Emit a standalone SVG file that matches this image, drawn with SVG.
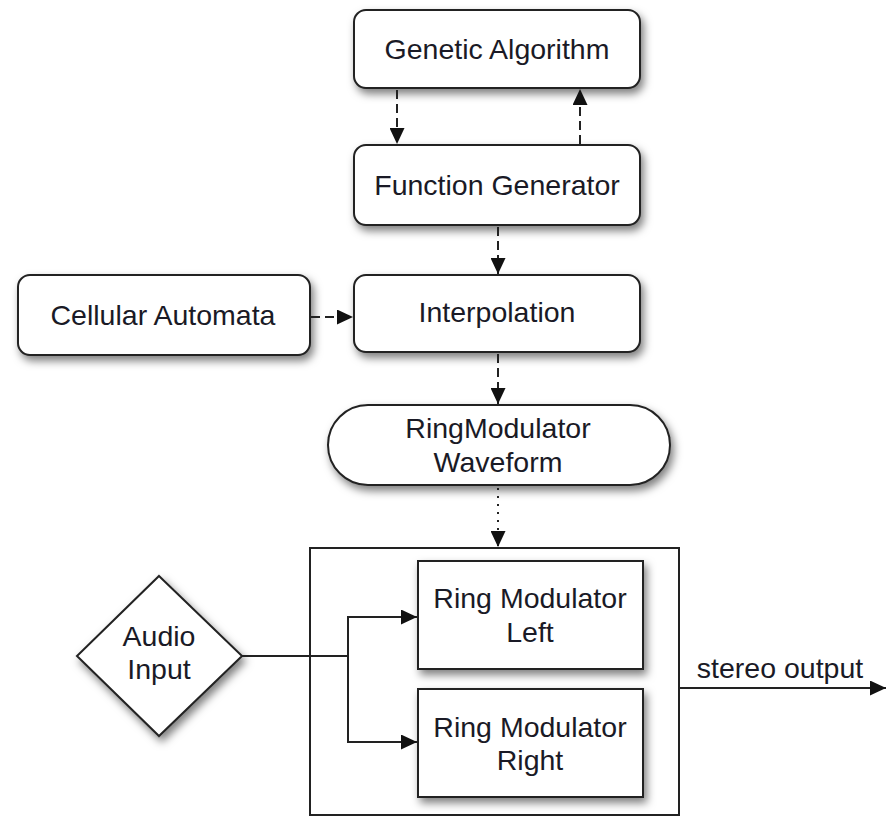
<svg xmlns="http://www.w3.org/2000/svg" width="887" height="817" viewBox="0 0 887 817">
<defs>
<filter id="sh" x="-20%" y="-20%" width="140%" height="150%">
<feDropShadow dx="3" dy="5" stdDeviation="4" flood-color="#000" flood-opacity="0.5"/>
</filter>
<marker id="ah" markerUnits="userSpaceOnUse" markerWidth="17" markerHeight="15" refX="16" refY="7.5" orient="auto">
<path d="M0,0 L16,7.5 L0,15 z" fill="#111"/>
</marker>
<style>
.box{fill:#fff;stroke:#222;stroke-width:2;filter:url(#sh)}
.t{font-family:"Liberation Sans",Arial,sans-serif;font-size:28.5px;fill:#1a1a26;text-anchor:middle}
.c{fill:none;stroke:#222;stroke-width:2}
.d{stroke-dasharray:9 5}
.dot{stroke-dasharray:2 6}
</style>
</defs>
<rect width="887" height="817" fill="#fff"/>
<g id="genetic-algorithm"><rect class="box" x="354" y="10" width="286" height="78" rx="12"/><text class="t" x="497" y="59">Genetic Algorithm</text></g>
<g id="function-generator"><rect class="box" x="354" y="145" width="286" height="80" rx="12"/><text class="t" x="497" y="195">Function Generator</text></g>
<g id="cellular-automata"><rect class="box" x="18" y="275" width="292" height="80" rx="12"/><text class="t" x="163" y="325">Cellular Automata</text></g>
<g id="interpolation"><rect class="box" x="354" y="275" width="286" height="77" rx="12"/><text class="t" x="497" y="322">Interpolation</text></g>
<g id="ringmodulator-waveform"><rect class="box" x="328" y="405" width="342" height="80" rx="40"/><text class="t" x="498" y="438">RingModulator</text><text class="t" x="498" y="472">Waveform</text></g>
<g id="container"><rect x="310" y="548" width="369" height="267" fill="#fff" stroke="#222" stroke-width="2"/></g>
<g id="ring-modulator-left"><rect class="box" x="418" y="561" width="225" height="108"/><text class="t" x="530" y="608">Ring Modulator</text><text class="t" x="530" y="642">Left</text></g>
<g id="ring-modulator-right"><rect class="box" x="418" y="689" width="225" height="108"/><text class="t" x="530" y="737">Ring Modulator</text><text class="t" x="530" y="770">Right</text></g>
<g id="audio-input"><path class="box" d="M159,576 L242,656 L159,736 L77,656 Z"/><text class="t" x="159" y="646">Audio</text><text class="t" x="159" y="679">Input</text></g>
<g id="connectors">
<line class="c d" x1="397" y1="90" x2="397" y2="144" marker-end="url(#ah)"/>
<line class="c d" x1="580" y1="144" x2="580" y2="89" marker-end="url(#ah)"/>
<line class="c d" x1="498" y1="227" x2="498" y2="274" marker-end="url(#ah)"/>
<line class="c d" x1="311" y1="317" x2="353" y2="317" marker-end="url(#ah)"/>
<line class="c d" x1="498" y1="354" x2="498" y2="404" marker-end="url(#ah)"/>
<line class="c dot" x1="498" y1="488" x2="498" y2="547" marker-end="url(#ah)"/>
<polyline class="c" points="242,656 348,656"/>
<polyline class="c" points="417,617 348,617 348,742 417,742" marker-end="url(#ah)"/>
<line class="c" x1="348" y1="617" x2="417" y2="617" marker-end="url(#ah)"/>
<line class="c" x1="679" y1="688" x2="886" y2="688" marker-end="url(#ah)"/>
<text class="t" x="780" y="678">stereo output</text>
</g>
</svg>
